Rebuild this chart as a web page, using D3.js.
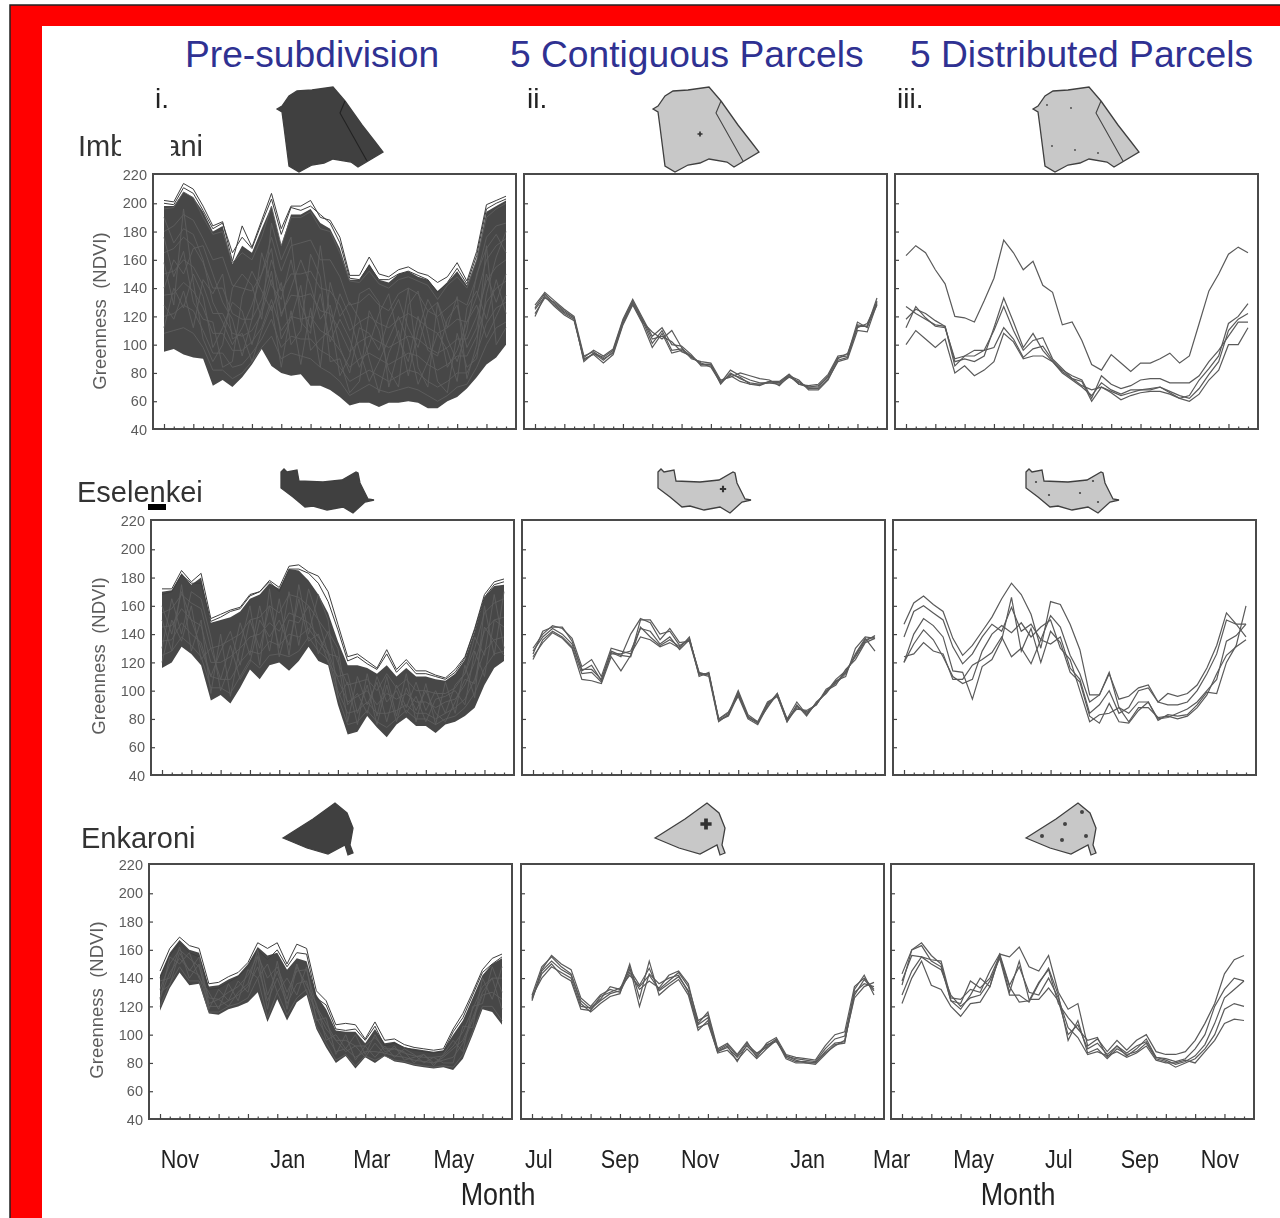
<!DOCTYPE html>
<html>
<head>
<meta charset="utf-8">
<script src="https://cdnjs.cloudflare.com/ajax/libs/d3/7.8.5/d3.min.js"></script>
<style>
  html, body { margin: 0; padding: 0; background: white; overflow: hidden; }
  text { font-family: "Liberation Sans", Arial, sans-serif; }
  .soft { filter: blur(0.55px); }
</style>
</head>
<body>
<div id="my_dataviz"></div>
<script>
// y axis, the same in all nine panels
var yTicks = [40, 60, 80, 100, 120, 140, 160, 180, 200, 220];

// column headers and row names
var columnTitles = ["Pre-subdivision", "5 Contiguous Parcels", "5 Distributed Parcels"];
var columnNumbers = ["i.", "ii.", "iii."];
var yLabel = "Greenness  (NDVI)";

// month labels run along under all three columns, placed by 16-day period counted from the first column
var monthNames = ["Nov", "Jan", "Mar", "May", "Jul", "Sep", "Nov", "Jan", "Mar", "May", "Jul", "Sep", "Nov"];
var monthPeriods = [1.87, 12.9, 21.5, 29.9, 38.6, 46.9, 55.1, 66.1, 74.7, 83.1, 91.8, 100.1, 108.3];

// ---- Imbirikani ----
var imbUpper = [198, 198, 208, 204, 194, 180, 184, 157, 170, 165, 182, 198, 170, 192, 192, 196, 186, 182, 168, 146, 146, 157, 146, 144, 150, 152, 148, 146, 138, 144, 152, 142, 160, 194, 198, 202];
var imbLower = [95, 97, 93, 91, 90, 71, 75, 70, 77, 86, 97, 85, 80, 78, 79, 71, 71, 68, 63, 57, 59, 59, 56, 59, 59, 60, 59, 55, 55, 60, 63, 69, 77, 86, 91, 100];
var imbLines = [
    [202, 201, 214, 210, 198, 184, 187, 159, 184, 169, 188, 207, 182, 198, 198, 202, 190, 188, 176, 149, 149, 162, 150, 148, 153, 155, 151, 149, 144, 148, 158, 145, 166, 199, 202, 205],
    [200, 199, 211, 207, 195, 182, 186, 165, 176, 168, 186, 203, 178, 197, 195, 198, 192, 186, 172, 147, 146, 156, 146, 146, 150, 152, 149, 146, 137, 144, 154, 143, 163, 196, 200, 203],
    [196, 197, 208, 204, 190, 178, 180, 158, 165, 160, 176, 198, 170, 190, 190, 194, 182, 180, 165, 145, 144, 152, 143, 140, 146, 148, 145, 142, 132, 142, 148, 140, 160, 190, 196, 200],
    [180, 184, 192, 188, 175, 160, 162, 142, 140, 138, 150, 176, 152, 170, 172, 174, 160, 160, 148, 128, 130, 136, 128, 124, 136, 140, 136, 124, 120, 126, 132, 128, 148, 176, 184, 186],
    [165, 168, 176, 170, 158, 140, 140, 122, 118, 118, 132, 160, 138, 150, 150, 152, 140, 138, 128, 110, 116, 120, 115, 112, 118, 122, 118, 112, 108, 112, 118, 116, 134, 160, 170, 175],
    [150, 152, 160, 155, 142, 122, 122, 108, 106, 110, 122, 146, 122, 135, 134, 136, 124, 122, 110, 95, 102, 106, 102, 98, 102, 106, 104, 98, 94, 98, 104, 104, 120, 145, 155, 160],
    [135, 136, 144, 138, 126, 108, 108, 96, 96, 102, 112, 132, 110, 120, 118, 120, 110, 106, 96, 84, 90, 94, 90, 86, 90, 94, 92, 86, 82, 86, 92, 92, 106, 130, 140, 145],
    [120, 122, 128, 124, 110, 94, 94, 84, 86, 94, 104, 118, 98, 106, 104, 104, 96, 92, 84, 74, 78, 82, 78, 74, 78, 82, 80, 74, 70, 74, 80, 80, 94, 115, 126, 130],
    [108, 110, 112, 108, 98, 82, 82, 76, 80, 88, 98, 106, 90, 94, 92, 90, 84, 80, 74, 64, 68, 72, 68, 66, 68, 70, 68, 64, 60, 64, 70, 72, 84, 100, 112, 116],
    [190, 172, 182, 178, 160, 130, 116, 100, 112, 128, 150, 168, 120, 140, 160, 142, 118, 128, 98, 80, 112, 108, 96, 118, 132, 112, 98, 124, 130, 104, 88, 110, 150, 168, 178, 165],
    [140, 160, 150, 168, 170, 150, 130, 118, 92, 118, 165, 142, 132, 160, 128, 112, 136, 102, 118, 104, 84, 100, 122, 136, 104, 88, 120, 96, 92, 118, 128, 98, 112, 150, 130, 150],
    [112, 140, 126, 150, 134, 98, 112, 130, 124, 100, 126, 152, 104, 118, 142, 96, 104, 110, 136, 120, 96, 74, 88, 104, 120, 102, 72, 88, 108, 96, 74, 126, 138, 118, 146, 122],
    [176, 148, 166, 130, 118, 116, 84, 88, 134, 152, 138, 124, 144, 100, 110, 164, 148, 88, 90, 66, 74, 124, 110, 82, 70, 128, 138, 108, 74, 66, 108, 84, 90, 136, 162, 180],
    [128, 118, 138, 112, 146, 136, 150, 104, 108, 88, 110, 128, 84, 124, 86, 126, 84, 144, 120, 130, 118, 90, 66, 94, 110, 78, 110, 132, 118, 84, 96, 116, 128, 105, 120, 135],
    [158, 128, 196, 144, 104, 88, 100, 140, 150, 142, 118, 186, 160, 176, 116, 108, 170, 120, 78, 92, 136, 140, 130, 70, 96, 140, 84, 70, 130, 112, 134, 76, 100, 170, 100, 112]
];
var imbContiguous = [
    [126, 136, 129, 123, 119, 89, 94, 89, 95, 116, 130, 117, 101, 110, 96, 97, 92, 86, 86, 72, 80, 76, 73, 72, 74, 73, 79, 73, 70, 70, 78, 90, 94, 113, 113, 133],
    [120, 135, 128, 122, 118, 91, 96, 92, 97, 118, 132, 119, 106, 112, 100, 99, 93, 85, 85, 74, 78, 74, 72, 72, 73, 73, 78, 72, 71, 72, 79, 92, 93, 116, 112, 131],
    [125, 134, 127, 121, 117, 90, 93, 87, 93, 114, 128, 115, 98, 108, 94, 96, 91, 87, 84, 73, 82, 78, 75, 73, 73, 72, 77, 74, 69, 69, 76, 88, 90, 110, 109, 129],
    [122, 133, 130, 124, 119, 88, 94, 91, 96, 117, 131, 118, 104, 106, 102, 95, 92, 86, 86, 73, 79, 77, 72, 71, 74, 74, 79, 72, 70, 71, 77, 91, 92, 112, 115, 130],
    [128, 137, 131, 125, 120, 92, 95, 90, 94, 115, 129, 116, 109, 104, 110, 98, 90, 88, 87, 75, 77, 80, 78, 76, 75, 71, 78, 75, 68, 68, 75, 89, 91, 114, 113, 128]
];
var imbDistributed = [
    [163, 170, 165, 153, 143, 120, 119, 116, 131, 147, 174, 165, 153, 159, 142, 137, 114, 116, 103, 86, 82, 93, 87, 81, 87, 87, 90, 94, 87, 92, 115, 138, 150, 164, 169, 165],
    [112, 127, 119, 113, 112, 90, 92, 96, 96, 98, 112, 104, 91, 97, 99, 89, 82, 78, 75, 62, 78, 72, 69, 71, 75, 76, 76, 73, 73, 73, 78, 88, 96, 106, 116, 116],
    [127, 122, 118, 114, 113, 88, 90, 88, 92, 112, 133, 116, 98, 108, 96, 88, 80, 75, 70, 64, 73, 68, 65, 68, 68, 68, 70, 66, 62, 64, 75, 83, 92, 115, 120, 129],
    [118, 125, 122, 117, 113, 85, 92, 92, 96, 110, 127, 110, 96, 103, 105, 90, 83, 76, 71, 68, 70, 67, 64, 66, 68, 69, 70, 67, 64, 62, 69, 79, 88, 110, 118, 122],
    [100, 110, 104, 98, 104, 80, 85, 78, 82, 88, 108, 102, 90, 92, 92, 88, 81, 76, 74, 60, 70, 66, 61, 64, 66, 67, 67, 65, 62, 60, 65, 75, 82, 100, 100, 112]
];

// ---- Eselenkei ----
var eseUpper = [170, 171, 183, 175, 180, 148, 150, 152, 156, 165, 168, 176, 172, 186, 185, 178, 168, 155, 135, 118, 118, 116, 112, 118, 110, 116, 110, 110, 108, 107, 112, 122, 142, 166, 174, 175];
var eseLower = [116, 120, 131, 126, 118, 93, 97, 91, 102, 115, 108, 118, 120, 114, 121, 131, 121, 118, 90, 69, 71, 82, 74, 67, 76, 81, 75, 75, 70, 76, 78, 82, 88, 104, 116, 121];
var eseLines = [
    [172, 172, 185, 177, 183, 151, 154, 157, 159, 168, 170, 178, 173, 188, 189, 184, 181, 170, 147, 124, 126, 121, 116, 129, 115, 122, 114, 114, 111, 109, 115, 124, 144, 168, 177, 179],
    [168, 170, 182, 176, 176, 149, 152, 156, 158, 167, 170, 177, 170, 186, 186, 183, 176, 163, 143, 121, 124, 119, 115, 126, 113, 120, 112, 112, 110, 108, 113, 123, 143, 166, 175, 177],
    [155, 158, 168, 162, 158, 130, 132, 136, 140, 150, 152, 160, 155, 168, 166, 160, 150, 140, 120, 104, 106, 108, 100, 112, 102, 108, 100, 100, 98, 98, 102, 112, 130, 155, 162, 165],
    [145, 146, 158, 150, 146, 120, 120, 124, 130, 138, 140, 148, 142, 155, 152, 148, 138, 128, 108, 92, 96, 100, 90, 98, 94, 98, 92, 92, 88, 92, 94, 104, 120, 142, 150, 152],
    [135, 136, 148, 140, 134, 110, 108, 108, 120, 128, 126, 135, 132, 140, 138, 144, 134, 126, 100, 84, 86, 92, 84, 84, 86, 90, 84, 84, 80, 84, 88, 94, 108, 128, 136, 138],
    [125, 128, 138, 132, 124, 102, 102, 98, 110, 122, 116, 125, 126, 124, 128, 138, 128, 122, 96, 76, 78, 86, 78, 74, 80, 86, 80, 80, 76, 80, 82, 88, 98, 116, 126, 128],
    [160, 140, 170, 150, 130, 110, 128, 142, 118, 150, 130, 160, 130, 170, 132, 172, 150, 126, 124, 78, 110, 90, 106, 78, 104, 88, 106, 86, 100, 84, 104, 112, 138, 125, 168, 130],
    [130, 165, 140, 170, 165, 138, 100, 118, 148, 125, 160, 128, 165, 125, 175, 140, 168, 150, 95, 106, 76, 112, 82, 110, 82, 112, 78, 105, 76, 106, 84, 118, 95, 160, 125, 170],
    [150, 128, 175, 128, 150, 98, 140, 96, 132, 160, 118, 172, 124, 150, 148, 160, 126, 142, 130, 90, 98, 84, 110, 92, 100, 84, 96, 78, 94, 96, 100, 90, 128, 110, 150, 145],
    [120, 150, 135, 160, 122, 130, 108, 132, 108, 120, 150, 138, 150, 132, 165, 135, 140, 120, 110, 112, 84, 104, 76, 104, 78, 102, 86, 100, 84, 78, 92, 108, 105, 145, 135, 125]
];
var eseContiguous = [
    [128, 138, 144, 140, 133, 115, 115, 108, 128, 125, 124, 145, 138, 132, 136, 131, 137, 112, 112, 79, 83, 98, 81, 77, 90, 98, 79, 89, 84, 91, 99, 106, 113, 125, 136, 138],
    [124, 134, 141, 137, 130, 108, 107, 105, 124, 114, 125, 150, 150, 140, 142, 132, 136, 113, 111, 80, 84, 100, 83, 78, 92, 96, 80, 87, 86, 90, 100, 104, 115, 122, 134, 137],
    [130, 140, 146, 144, 137, 117, 122, 110, 130, 128, 126, 138, 136, 131, 134, 130, 138, 110, 113, 80, 85, 96, 80, 76, 89, 97, 78, 90, 82, 92, 98, 107, 110, 130, 138, 137],
    [122, 136, 142, 138, 131, 112, 113, 106, 127, 124, 140, 151, 148, 136, 144, 134, 135, 111, 112, 79, 82, 97, 82, 77, 91, 96, 78, 88, 85, 90, 101, 105, 112, 126, 137, 128],
    [126, 142, 145, 145, 135, 114, 118, 107, 126, 126, 128, 144, 142, 133, 138, 129, 136, 112, 110, 78, 83, 99, 81, 78, 88, 98, 80, 92, 83, 91, 99, 108, 114, 124, 135, 139]
];
var eseDistributed = [
    [147, 162, 167, 161, 156, 137, 125, 132, 142, 152, 165, 176, 168, 154, 130, 163, 161, 147, 129, 97, 97, 112, 94, 96, 102, 104, 92, 98, 96, 98, 104, 116, 132, 155, 147, 147],
    [138, 156, 160, 155, 150, 131, 119, 126, 138, 147, 142, 159, 142, 147, 136, 153, 145, 125, 112, 92, 97, 113, 88, 84, 92, 92, 80, 81, 84, 87, 92, 100, 108, 135, 139, 147],
    [120, 140, 151, 146, 138, 114, 113, 94, 117, 122, 136, 166, 128, 144, 120, 142, 134, 113, 106, 82, 77, 91, 78, 77, 86, 92, 79, 83, 82, 83, 90, 99, 98, 120, 132, 160],
    [120, 133, 143, 136, 124, 110, 105, 108, 128, 140, 146, 141, 148, 138, 145, 150, 130, 122, 100, 78, 83, 84, 88, 78, 88, 88, 81, 82, 80, 82, 88, 97, 112, 125, 131, 136],
    [124, 126, 134, 128, 126, 108, 108, 118, 122, 127, 138, 124, 130, 119, 136, 133, 138, 116, 108, 84, 90, 100, 84, 88, 100, 102, 92, 90, 90, 92, 100, 112, 126, 150, 147, 138]
];

// ---- Enkaroni ----
var enkUpper = [142, 158, 167, 160, 158, 134, 135, 139, 142, 150, 162, 156, 158, 146, 154, 152, 128, 118, 103, 102, 102, 94, 104, 94, 95, 91, 90, 89, 88, 89, 100, 110, 126, 142, 150, 154];
var enkLower = [117, 133, 144, 135, 136, 115, 114, 118, 120, 123, 130, 109, 125, 110, 123, 128, 104, 91, 80, 85, 76, 84, 80, 85, 81, 80, 78, 77, 76, 77, 75, 83, 100, 118, 116, 107];
var enkLines = [
    [145, 161, 169, 163, 161, 136, 137, 141, 144, 151, 165, 161, 165, 150, 164, 161, 131, 124, 107, 108, 107, 97, 109, 96, 97, 93, 91, 90, 89, 90, 104, 115, 130, 146, 154, 157],
    [140, 156, 165, 158, 155, 132, 133, 137, 141, 148, 160, 153, 160, 148, 158, 157, 126, 121, 104, 103, 104, 96, 106, 92, 94, 91, 89, 88, 87, 88, 102, 112, 128, 144, 150, 155],
    [132, 150, 160, 154, 148, 126, 125, 130, 134, 142, 156, 140, 148, 130, 145, 146, 120, 108, 96, 96, 92, 92, 98, 90, 90, 87, 85, 84, 84, 85, 92, 102, 118, 134, 140, 140],
    [126, 144, 154, 146, 142, 120, 120, 124, 128, 134, 148, 124, 140, 122, 136, 138, 112, 100, 88, 90, 84, 88, 88, 87, 85, 84, 82, 81, 80, 82, 84, 94, 110, 128, 130, 125],
    [120, 136, 148, 138, 138, 116, 116, 120, 122, 126, 140, 112, 130, 114, 126, 132, 106, 94, 82, 86, 78, 85, 82, 85, 82, 81, 79, 78, 77, 78, 77, 86, 102, 120, 120, 110],
    [138, 140, 162, 140, 150, 118, 132, 124, 138, 130, 155, 118, 152, 118, 148, 135, 122, 96, 100, 90, 100, 86, 100, 88, 90, 88, 80, 86, 78, 86, 96, 88, 120, 122, 148, 130],
    [125, 155, 150, 158, 140, 130, 118, 136, 124, 146, 140, 150, 130, 140, 128, 148, 110, 112, 86, 100, 82, 92, 84, 92, 84, 90, 86, 80, 84, 80, 80, 106, 105, 140, 125, 148],
    [130, 135, 158, 145, 155, 122, 125, 120, 130, 136, 160, 128, 145, 125, 150, 130, 118, 104, 96, 88, 92, 84, 94, 86, 92, 82, 84, 86, 80, 84, 90, 96, 112, 130, 140, 118]
];
var enkContiguous = [
    [126, 145, 152, 146, 142, 124, 118, 124, 129, 131, 146, 135, 147, 131, 136, 141, 131, 107, 112, 88, 91, 84, 92, 85, 92, 97, 84, 81, 81, 80, 88, 94, 95, 128, 139, 131],
    [128, 148, 155, 148, 143, 122, 116, 122, 127, 129, 150, 126, 152, 128, 134, 139, 128, 103, 110, 87, 89, 82, 90, 83, 90, 96, 83, 80, 80, 79, 86, 93, 94, 132, 142, 128],
    [125, 143, 150, 142, 138, 118, 117, 127, 130, 133, 142, 134, 142, 132, 138, 144, 134, 110, 114, 89, 93, 85, 94, 86, 93, 95, 85, 83, 82, 81, 90, 97, 99, 130, 136, 134],
    [127, 140, 148, 144, 140, 120, 119, 125, 134, 132, 148, 120, 143, 136, 140, 142, 130, 105, 108, 88, 92, 81, 93, 87, 91, 96, 85, 82, 80, 80, 87, 92, 96, 126, 134, 137],
    [124, 146, 156, 150, 146, 126, 120, 128, 132, 130, 144, 132, 138, 133, 142, 145, 136, 108, 116, 90, 94, 86, 95, 84, 94, 98, 86, 84, 83, 82, 92, 100, 102, 134, 140, 132]
];
var enkDistributed = [
    [135, 160, 165, 156, 150, 124, 118, 128, 140, 134, 157, 155, 162, 148, 145, 156, 130, 118, 122, 92, 97, 88, 96, 89, 96, 100, 88, 86, 86, 88, 96, 108, 122, 143, 153, 156],
    [122, 140, 152, 135, 132, 120, 113, 122, 123, 134, 156, 134, 123, 124, 137, 146, 122, 112, 104, 96, 98, 84, 92, 85, 90, 97, 84, 83, 81, 83, 90, 100, 120, 132, 140, 138],
    [143, 160, 163, 152, 148, 124, 122, 138, 133, 140, 156, 130, 152, 125, 125, 133, 124, 100, 107, 90, 94, 86, 92, 87, 92, 95, 84, 82, 79, 81, 85, 93, 108, 126, 132, 138],
    [128, 145, 155, 150, 146, 128, 120, 126, 128, 138, 154, 128, 128, 123, 136, 147, 128, 96, 110, 87, 90, 83, 90, 86, 88, 94, 83, 81, 77, 80, 83, 90, 100, 118, 122, 120],
    [138, 156, 155, 153, 152, 126, 125, 132, 130, 145, 157, 135, 148, 130, 128, 140, 126, 105, 98, 86, 88, 85, 88, 84, 87, 92, 82, 80, 80, 82, 80, 88, 96, 108, 111, 110]
];

// county outlines, page pixels of the dark copy in the first column (not chart values)
var imbOutline = [[277, 109], [282, 106], [289, 96], [297, 91], [312, 90], [333, 87], [345, 101], [362, 125], [376, 143], [383, 152], [358, 167], [351, 162], [333, 159], [324, 163], [312, 165], [299, 172], [289, 166], [284, 127], [282, 112]];
var imbParcelLine = [[345, 101], [340, 113], [367, 161]];
var eseOutline = [[281, 472], [284, 469], [287, 472], [297, 470], [299, 481], [323, 482], [342, 480], [356, 472], [358, 473], [360, 483], [368, 499], [374, 500], [365, 502], [353, 513], [343, 507], [327, 510], [313, 506], [305, 507], [293, 497], [281, 488], [281, 480]];
var enkOutline = [[283, 838], [313, 819], [335, 803], [347, 813], [353, 828], [350, 845], [353, 853], [348, 855], [345, 845], [328, 854], [307, 848]];

var imbSites = [[1047, 105], [1071, 108], [1052, 146], [1075, 150], [1098, 153]];
var eseSites = [[1036, 482], [1049, 495], [1080, 493], [1098, 502], [1093, 481]];
var enkSites = [[1082, 812], [1065, 824], [1042, 836], [1062, 840], [1086, 836]];

var rows = [
    { label: "Eselenkei", labelX: 77, labelY: 502, top: 520, lefts: [151, 522, 893], mapDx: [377, 745], upper: eseUpper, lower: eseLower, lines: eseLines, contig: eseContiguous, dist: eseDistributed, outline: eseOutline, sites: eseSites, cross: [723, 489], crossSize: 22, siteR: 1.1, yLab: [105, 656] },
    { label: "Enkaroni", labelX: 81, labelY: 848, top: 864, lefts: [149, 521, 891], mapDx: [372, 743], upper: enkUpper, lower: enkLower, lines: enkLines, contig: enkContiguous, dist: enkDistributed, outline: enkOutline, sites: enkSites, cross: [706, 824], crossSize: 70, siteR: 2, yLab: [103, 1000] },
    { label: null, top: 174, lefts: [153, 524, 895], mapDx: [376, 756], upper: imbUpper, lower: imbLower, lines: imbLines, contig: imbContiguous, dist: imbDistributed, outline: imbOutline, inner: imbParcelLine, sites: imbSites, cross: [700, 134], crossSize: 14, siteR: 0.9, yLab: [106, 311] }
];

var panelWidth = 363, panelHeight = 255;
var periods = d3.range(36);

var svg = d3.select("#my_dataviz")
    .append("svg")
    .attr("width", 1280)
    .attr("height", 1218);

// the red slide frame
svg.append("rect").attr("x", 10).attr("y", 5).attr("width", 1280).attr("height", 1230).attr("fill", "#ff0000").attr("stroke", "#222").attr("stroke-width", 1.5);
svg.append("rect").attr("x", 42).attr("y", 26).attr("width", 1240).attr("height", 1200).attr("fill", "white");

var titleX = [185, 510, 910];
svg.selectAll(".coltitle").data(columnTitles).enter().append("text")
    .attr("class", "coltitle")
    .attr("x", function (d, i) { return titleX[i]; })
    .attr("y", 67)
    .attr("font-size", 37.2)
    .attr("fill", "#2f3192")
    .text(function (d) { return d; });

var page = svg.append("g").attr("class", "soft");

var numberX = [155, 527, 897];
page.selectAll(".colnum").data(columnNumbers).enter().append("text")
    .attr("x", function (d, i) { return numberX[i]; })
    .attr("y", 108)
    .attr("font-size", 28)
    .attr("fill", "#222")
    .text(function (d) { return d; });

var y0 = d3.scaleLinear().domain([40, 220]).range([panelHeight + 0.5, 1]);
var x0 = d3.scaleLinear().domain([0, 35]).range([11, panelWidth - 10]);

function drawFrame(g) {
    g.append("rect")
        .attr("width", panelWidth)
        .attr("height", panelHeight)
        .attr("fill", "white")
        .attr("stroke", "#4a4a4a")
        .attr("stroke-width", 2);
}

function drawAxes(g, withLabels) {
    var left = g.append("g")
        .call(d3.axisLeft(y0).tickValues(yTicks).tickSize(-4).tickPadding(6).tickFormat(withLabels ? d3.format("d") : ""));
    left.select(".domain").remove();
    left.selectAll("line").attr("stroke", "#444").attr("stroke-width", 1.2);
    // the end ticks sit on the frame
    left.selectAll(".tick").filter(function (d) { return d === 40 || d === 220; }).select("line").remove();
    left.selectAll("text").attr("font-size", 14.5).attr("fill", "#5c5c5c").attr("font-family", "Liberation Sans");

    // three periods to a month tick, long then two short
    [[periods.filter(function (d) { return d % 3 === 0; }), -5], [periods.filter(function (d) { return d % 3 !== 0; }), -2.5]].forEach(function (t) {
        var bottom = g.append("g")
            .attr("transform", "translate(0," + panelHeight + ")")
            .call(d3.axisBottom(x0).tickValues(t[0]).tickSize(t[1]).tickFormat(""));
        bottom.select(".domain").remove();
        bottom.selectAll("line").attr("stroke", "#444").attr("stroke-width", 1.2);
    });
}

var line = d3.line()
    .x(function (d, i) { return x0(i); })
    .y(function (d) { return y0(d); });

var band = d3.area()
    .x(function (d) { return x0(d.i); })
    .y0(function (d) { return y0(d.lo); })
    .y1(function (d) { return y0(d.hi); });

function drawLines(g, series, colour, width) {
    g.selectAll(".series" + colour.slice(1)).data(series).enter().append("path")
        .attr("class", "series" + colour.slice(1))
        .attr("d", line)
        .attr("fill", "none")
        .attr("stroke", colour)
        .attr("stroke-width", width);
}

function drawMap(row, dx, fill) {
    var outline = d3.line().curve(d3.curveLinearClosed);
    var m = page.append("g").attr("transform", "translate(" + dx + ",0)");
    m.append("path").attr("d", outline(row.outline))
        .attr("fill", fill)
        .attr("stroke", "#3f3f3f")
        .attr("stroke-width", 1.3);
    if (row.inner) {
        m.append("path").attr("d", d3.line()(row.inner))
            .attr("fill", "none")
            .attr("stroke", dx === 0 ? "#222" : "#444")
            .attr("stroke-width", 1.1);
    }
}

rows.forEach(function (row) {
    var r = page.append("g").attr("transform", "translate(" + row.lefts[0] + "," + row.top + ")");
    drawFrame(r);
    drawAxes(r, true);

    // hundreds of pixels: dark band between the envelopes, then a few traced lines over it
    var bandData = periods.map(function (i) { return { i: i, lo: row.lower[i], hi: row.upper[i] }; });
    r.append("path").datum(bandData).attr("d", band).attr("fill", "#474747");
    drawLines(r, row.lines.slice(0, 2), "#3e3e3e", 1);
    drawLines(r, row.lines.slice(2), "#5f5f5f", 0.9);

    var c = page.append("g").attr("transform", "translate(" + row.lefts[1] + "," + row.top + ")");
    drawFrame(c);
    drawAxes(c, false);
    drawLines(c, row.contig, "#5a5a5a", 1.2);

    var d = page.append("g").attr("transform", "translate(" + row.lefts[2] + "," + row.top + ")");
    drawFrame(d);
    drawAxes(d, false);
    drawLines(d, row.dist, "#5a5a5a", 1.2);

    drawMap(row, 0, "#404040");
    drawMap(row, row.mapDx[0], "#c8c8c8");
    drawMap(row, row.mapDx[1], "#c8c8c8");

    // parcel markers on the grey maps
    page.append("path")
        .attr("transform", "translate(" + row.cross[0] + "," + row.cross[1] + ")")
        .attr("d", d3.symbol().type(d3.symbolCross).size(row.crossSize)())
        .attr("fill", "#333");
    page.selectAll(".site" + row.top).data(row.sites).enter().append("circle")
        .attr("class", "site" + row.top)
        .attr("cx", function (p) { return p[0]; })
        .attr("cy", function (p) { return p[1]; })
        .attr("r", row.siteR)
        .attr("fill", "#444");

    page.append("text")
        .attr("transform", "translate(" + row.yLab[0] + "," + row.yLab[1] + ") rotate(-90)")
        .attr("text-anchor", "middle")
        .attr("font-size", 18.5)
        .attr("fill", "#5c5c5c")
        .style("white-space", "pre")
        .text(yLabel);

    if (row.label) {
        page.append("text")
            .attr("x", row.labelX)
            .attr("y", row.labelY)
            .attr("font-size", 29)
            .attr("fill", "#333")
            .text(row.label);
    }
});

// Imbirikani's label is half hidden in the source by a white patch
page.append("text").attr("x", 78).attr("y", 156).attr("font-size", 29).attr("fill", "#333").text("Imb");
page.append("text").attr("x", 203).attr("y", 156).attr("font-size", 29).attr("fill", "#333").attr("text-anchor", "end").text("ani");
page.append("rect").attr("x", 121).attr("y", 130).attr("width", 50).attr("height", 32).attr("fill", "white");

// little black bar under the n of Eselenkei
svg.append("rect").attr("x", 148).attr("y", 504).attr("width", 18).attr("height", 6).attr("fill", "#000");

// month labels, narrow type squeezed out of the regular face
var xMonths = d3.scaleLinear().domain([0, 35]).range([161.7, 503.7]);
page.selectAll(".month").data(monthNames).enter().append("text")
    .attr("transform", function (d, i) { return "translate(" + xMonths(monthPeriods[i]) + ",1168) scale(0.83,1)"; })
    .attr("text-anchor", "middle")
    .attr("font-size", 26)
    .attr("fill", "#222")
    .text(function (d) { return d; });

page.selectAll(".monthword").data([498, 1018]).enter().append("text")
    .attr("transform", function (d) { return "translate(" + d + ",1205) scale(0.84,1)"; })
    .attr("text-anchor", "middle")
    .attr("font-size", 32)
    .attr("fill", "#222")
    .text("Month");
</script>
</body>
</html>
